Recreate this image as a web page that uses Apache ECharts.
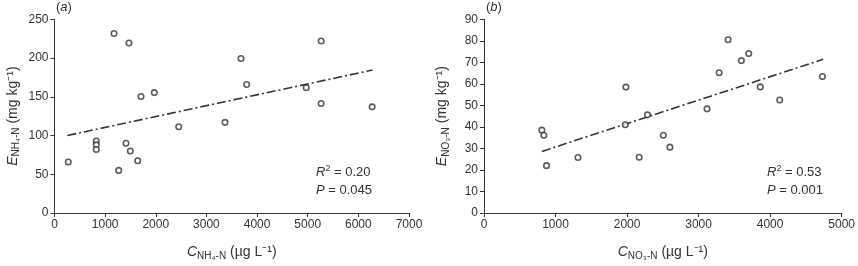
<!DOCTYPE html>
<html>
<head>
<meta charset="utf-8">
<script src="https://cdn.jsdelivr.net/npm/echarts@6/dist/echarts.min.js"></script>
<style>
html,body{margin:0;padding:0;background:#fff;}
#c{width:858px;height:266px;}
</style>
</head>
<body>
<div id="c"></div>
<script>
// Panel (a): NH4-N
const nh4X = [272, 825, 825, 825, 1175, 1471, 1268, 1412, 1497, 1643, 1708, 1971, 2453, 3367, 3683, 3795, 4970, 5265, 5265, 6272];
const nh4Y = [65.8, 92.9, 87.9, 82, 231.6, 219.5, 55, 90, 80, 67.5, 150.4, 155.4, 111.3, 117, 199.5, 165.8, 161.7, 222, 141.3, 137];
const nh4TrendX = [253, 6279];
const nh4TrendY = [100, 184.5];
const nh4XTicks = [0, 1000, 2000, 3000, 4000, 5000, 6000, 7000];
const nh4YTicks = [0, 50, 100, 150, 200, 250];

// Panel (b): NO3-N
const no3X = [809, 837, 874, 1314, 1975, 1984, 2169, 2285, 2507, 2599, 3118, 3287, 3413, 3598, 3701, 3862, 4134, 4731];
const no3Y = [38.5, 36.1, 22, 25.8, 41, 58.5, 25.9, 45.6, 36.1, 30.6, 48.4, 65.2, 80.5, 70.8, 74.1, 58.6, 52.5, 63.4];
const no3TrendX = [809, 4741];
const no3TrendY = [28.6, 71.4];
const no3XTicks = [0, 1000, 2000, 3000, 4000, 5000];
const no3YTicks = [0, 10, 20, 30, 40, 50, 60, 70, 80, 90];

const FONT = '"Liberation Sans", Arial, sans-serif';
const INK = '#333';

function pairs(xs, ys) { return xs.map((x, i) => [x, ys[i]]); }

const nameRich = {
  i: { fontStyle: 'italic', fontSize: 14, fontFamily: FONT, color: INK },
  s: { fontSize: 10, fontFamily: FONT, color: INK, padding: [7, 0, 0, 0] },
  n: { fontSize: 14, fontFamily: FONT, color: INK }
};

function xAx(gi, ticks, name) {
  return {
    gridIndex: gi, type: 'value',
    min: ticks[0], max: ticks[ticks.length - 1], interval: ticks[1] - ticks[0],
    axisLine: { show: true, lineStyle: { color: INK, width: 1 } },
    axisTick: { show: true, inside: false, length: 4, lineStyle: { color: INK } },
    axisLabel: { fontSize: 12, fontFamily: FONT, color: INK, margin: 6, formatter: v => String(v) },
    splitLine: { show: false },
    name: name, nameLocation: 'middle', nameGap: 31,
    nameTextStyle: { rich: nameRich }
  };
}
function yAx(gi, ticks, name) {
  return {
    gridIndex: gi, type: 'value',
    min: ticks[0], max: ticks[ticks.length - 1], interval: ticks[1] - ticks[0],
    axisLine: { show: true, lineStyle: { color: INK, width: 1 } },
    axisTick: { show: true, inside: false, length: 4, lineStyle: { color: INK } },
    axisLabel: { fontSize: 12, fontFamily: FONT, color: INK, margin: 6, formatter: v => String(v) },
    splitLine: { show: false },
    name: name, nameLocation: 'middle', nameGap: 33, nameRotate: 90,
    nameTextStyle: { rich: nameRich }
  };
}

function scatter(gi, xs, ys) {
  return {
    type: 'scatter', xAxisIndex: gi, yAxisIndex: gi,
    data: pairs(xs, ys), symbol: 'circle', symbolSize: 5.5,
    itemStyle: { color: '#fff', borderColor: INK, borderWidth: 1.6 },
    silent: true, z: 3
  };
}
function trend(gi, xs, ys) {
  return {
    type: 'line', xAxisIndex: gi, yAxisIndex: gi,
    data: pairs(xs, ys), showSymbol: false, symbol: 'none',
    lineStyle: { color: INK, width: 1.6, type: [9, 3, 2, 3] },
    silent: true, z: 2
  };
}

const annRich = {
  i: { fontStyle: 'italic', fontSize: 13, fontFamily: FONT, color: INK },
  n: { fontSize: 13, fontFamily: FONT, color: INK },
  sup: { fontSize: 9, fontFamily: FONT, color: INK, padding: [0, 0, 7, 0] }
};

const chart = echarts.init(document.getElementById('c'), null, { renderer: 'canvas' });
chart.setOption({
  animation: false,
  backgroundColor: '#fff',
  grid: [
    { left: 54.5, top: 19.3, width: 354.5, height: 200 },
    { left: 484, top: 19.3, width: 360.3, height: 200 }
  ],
  xAxis: [
    xAx(0, nh4XTicks, '{i|C}{s|NH₄-N}{n| (µg L⁻¹)}'),
    xAx(1, no3XTicks, '{i|C}{s|NO₃-N}{n| (µg L⁻¹)}')
  ],
  yAxis: [
    yAx(0, nh4YTicks, '{i|E}{s|NH₄-N}{n| (mg kg⁻¹)}'),
    yAx(1, no3YTicks, '{i|E}{s|NO₃-N}{n| (mg kg⁻¹)}')
  ],
  series: [
    trend(0, nh4TrendX, nh4TrendY),
    scatter(0, nh4X, nh4Y),
    trend(1, no3TrendX, no3TrendY),
    scatter(1, no3X, no3Y)
  ],
  graphic: [
    { type: 'text', left: 56, top: 1, style: { text: '({i|a})', rich: annRich, font: '13px ' + FONT, fill: INK } },
    { type: 'text', left: 486, top: 1, style: { text: '({i|b})', rich: annRich, font: '13px ' + FONT, fill: INK } },
    { type: 'text', left: 316, top: 163, style: { text: '{i|R}{sup|2}{n| = 0.20}\n{i|P}{n| = 0.045}', rich: annRich, lineHeight: 18, fill: INK } },
    { type: 'text', left: 767, top: 163, style: { text: '{i|R}{sup|2}{n| = 0.53}\n{i|P}{n| = 0.001}', rich: annRich, lineHeight: 18, fill: INK } }
  ]
});
</script>
</body>
</html>
